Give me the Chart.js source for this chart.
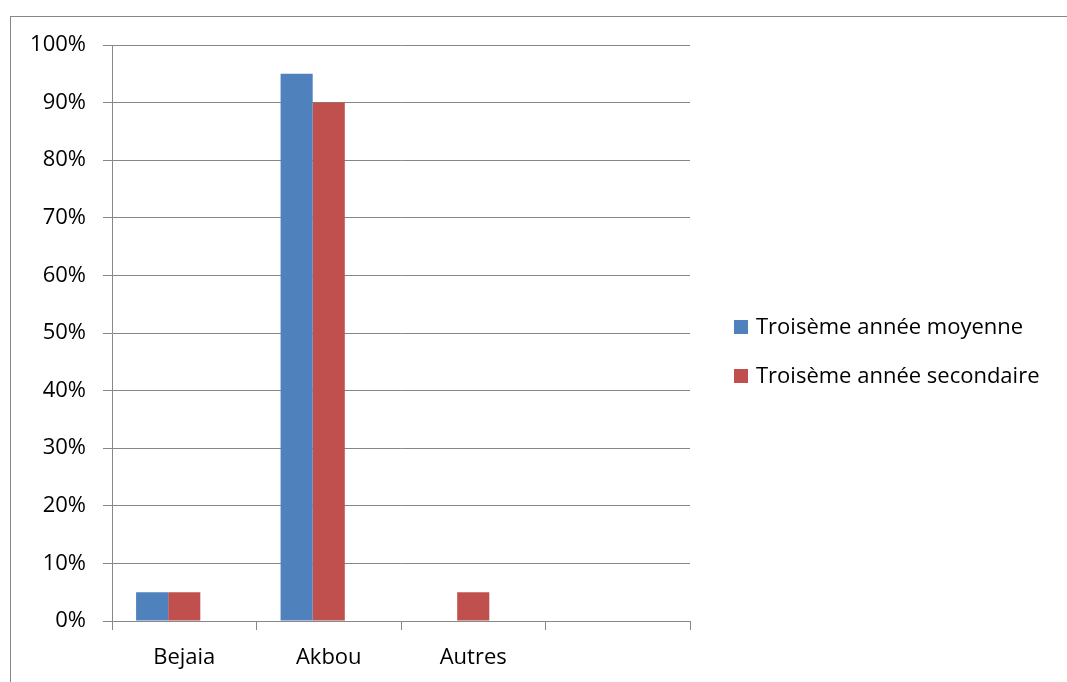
<!DOCTYPE html>
<html>
<head>
<meta charset="utf-8">
<script src="https://cdn.jsdelivr.net/npm/chart.js@4"></script>
<style>
  html, body { margin: 0; padding: 0; background: #fff; }
  #wrap { position: relative; width: 1067px; height: 682px; overflow: hidden; }
  #frame { position: absolute; left: 10px; top: 16px; width: 1100px; height: 700px; border: 1px solid #878787; box-sizing: border-box; }
  canvas { position: absolute; left: 0; top: 0; }
</style>
</head>
<body>
<div id="wrap">
  <div id="frame"></div>
  <canvas id="c" width="1067" height="682"></canvas>
</div>
<script>
const categories = ["Bejaia", "Akbou", "Autres", ""];
const seriesNames = ["Troisème année moyenne", "Troisème année secondaire", ""];
const moyenne = [5, 95, null, null];
const secondaire = [5, 90, 5, null];
const serieVide = [null, null, null, null];
const yTicks = [0, 10, 20, 30, 40, 50, 60, 70, 80, 90, 100];

const FONT = "'Open Sans'";
const FSIZE = 22;
const legendPlugin = {
  id: 'sideLegend',
  afterDraw(chart) {
    const ctx = chart.ctx;
    ctx.save();
    ctx.font = FSIZE + "px " + FONT;
    ctx.textBaseline = "middle";
    ctx.textAlign = "left";
    const ys = [327, 376];
    chart.data.datasets.filter(ds => ds.label).forEach((ds, i) => {
      ctx.fillStyle = ds.backgroundColor;
      ctx.fillRect(734, ys[i] - 7, 14, 14);
      ctx.fillStyle = "#000";
      ctx.fillText(ds.label, 756, ys[i] + 1);
    });
    ctx.restore();
  }
};

new Chart(document.getElementById('c'), {
  type: 'bar',
  data: {
    labels: categories,
    datasets: [
      { label: seriesNames[0], data: moyenne, backgroundColor: "#4F81BD" },
      { label: seriesNames[1], data: secondaire, backgroundColor: "#C0504D" },
      { label: seriesNames[2], data: serieVide, backgroundColor: "#9BBB59" }
    ]
  },
  options: {
    responsive: false,
    animation: false,
    devicePixelRatio: 1,
    layout: { padding: { left: 0, right: 377, top: 45, bottom: 0 } },
    categoryPercentage: 3 / 4.5,
    barPercentage: 1.0,
    plugins: { legend: { display: false }, tooltip: { enabled: false } },
    scales: {
      x: {
        offset: true,
        grid: { offset: true, drawOnChartArea: false, color: "#878787", tickLength: 9, lineWidth: 1 },
        border: { display: true, color: "#878787" },
        ticks: { color: "#000", font: { family: FONT, size: FSIZE }, padding: 15 },
        afterFit(s) { s.height = 61; }
      },
      y: {
        min: 0, max: 100,
        afterBuildTicks(s) { s.ticks = yTicks.map(v => ({ value: v })); },
        grid: { color: "#878787", tickLength: 9, lineWidth: 1 },
        border: { display: true, color: "#878787" },
        ticks: { color: "#000", font: { family: FONT, size: FSIZE }, padding: 17, callback: v => v + "%" },
        afterFit(s) { s.width = 112; }
      }
    }
  },
  plugins: [legendPlugin]
});
</script>
</body>
</html>
